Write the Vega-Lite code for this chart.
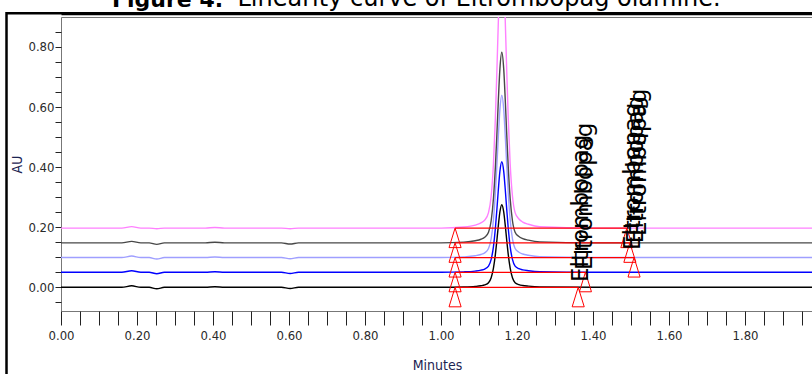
{
  "$schema": "https://vega.github.io/schema/vega-lite/v6.json",
  "autosize": "none",
  "width": 752,
  "height": 294,
  "padding": {"left": 61, "top": 17, "right": 0, "bottom": 63},
  "background": "white",
  "title": {
    "text": "Figure 4.",
    "anchor": "start",
    "frame": "group",
    "dx": 51,
    "dy": 26,
    "offset": 0,
    "font": "DejaVu Sans",
    "fontSize": 22,
    "fontWeight": "bold",
    "color": "#000000"
  },
  "resolve": {"axis": {"x": "independent", "y": "independent"}},
  "config": {
    "view": {"stroke": "#777777", "strokeWidth": 1},
    "axis": {
      "grid": false,
      "domain": false,
      "labelFont": "Liberation Sans Narrow, DejaVu Sans Condensed, Liberation Sans",
      "labelFontSize": 13,
      "labelColor": "#2a2a2a",
      "labelOverlap": false,
      "labelFlush": false,
      "tickColor": "#222222",
      "tickWidth": 1,
      "titleFont": "Liberation Sans Narrow, DejaVu Sans Condensed, Liberation Sans",
      "titleFontSize": 14,
      "titleFontWeight": "normal",
      "titleColor": "#1c2452"
    }
  },
  "datasets": {
    "chrom": [
      {"t": 0, "k": 0, "b": 0.05, "l": 0.099, "g": 0.148, "m": 0.197},
      {"t": 0.16, "k": 0, "b": 0.05, "l": 0.099, "g": 0.148, "m": 0.197},
      {"t": 0.186, "k": 0.005, "b": 0.055, "l": 0.104, "g": 0.153, "m": 0.202},
      {"t": 0.21, "k": 0, "b": 0.05, "l": 0.099, "g": 0.148, "m": 0.197},
      {"t": 0.232, "k": 0, "b": 0.05, "l": 0.099, "g": 0.148, "m": 0.197},
      {"t": 0.252, "k": -0.005, "b": 0.045, "l": 0.094, "g": 0.143, "m": 0.195},
      {"t": 0.272, "k": 0, "b": 0.05, "l": 0.099, "g": 0.148, "m": 0.197},
      {"t": 0.38, "k": 0, "b": 0.05, "l": 0.099, "g": 0.148, "m": 0.197},
      {"t": 0.405, "k": 0.002, "b": 0.052, "l": 0.101, "g": 0.15, "m": 0.199},
      {"t": 0.43, "k": 0, "b": 0.05, "l": 0.099, "g": 0.148, "m": 0.197},
      {"t": 0.58, "k": 0, "b": 0.05, "l": 0.099, "g": 0.148, "m": 0.197},
      {"t": 0.603, "k": -0.004, "b": 0.046, "l": 0.095, "g": 0.144, "m": 0.195},
      {"t": 0.625, "k": 0, "b": 0.05, "l": 0.099, "g": 0.148, "m": 0.197},
      {"t": 1.0, "k": 0, "b": 0.05, "l": 0.099, "g": 0.148, "m": 0.197},
      {"t": 1.06, "k": 0.0011, "b": 0.0515, "l": 0.1012, "g": 0.1505, "m": 0.2007},
      {"t": 1.09, "k": 0.003, "b": 0.054, "l": 0.1049, "g": 0.155, "m": 0.2071},
      {"t": 1.105, "k": 0.0052, "b": 0.057, "l": 0.1093, "g": 0.16, "m": 0.2145},
      {"t": 1.115, "k": 0.008, "b": 0.0607, "l": 0.1147, "g": 0.1664, "m": 0.2237},
      {"t": 1.125, "k": 0.0154, "b": 0.0706, "l": 0.1292, "g": 0.1835, "m": 0.2485},
      {"t": 1.132, "k": 0.0319, "b": 0.0927, "l": 0.1616, "g": 0.2215, "m": 0.3037},
      {"t": 1.138, "k": 0.0641, "b": 0.1357, "l": 0.2248, "g": 0.2957, "m": 0.4114},
      {"t": 1.143, "k": 0.1089, "b": 0.1957, "l": 0.3128, "g": 0.3991, "m": 0.5613},
      {"t": 1.147, "k": 0.1559, "b": 0.2587, "l": 0.4052, "g": 0.5075, "m": 0.7186},
      {"t": 1.151, "k": 0.2071, "b": 0.3271, "l": 0.5056, "g": 0.6254, "m": 0.8898},
      {"t": 1.155, "k": 0.2511, "b": 0.386, "l": 0.592, "g": 0.7268, "m": 1.037},
      {"t": 1.16, "k": 0.275, "b": 0.418, "l": 0.639, "g": 0.782, "m": 1.117},
      {"t": 1.165, "k": 0.2511, "b": 0.386, "l": 0.592, "g": 0.7268, "m": 1.037},
      {"t": 1.169, "k": 0.2071, "b": 0.3271, "l": 0.5056, "g": 0.6254, "m": 0.8898},
      {"t": 1.173, "k": 0.1559, "b": 0.2587, "l": 0.4052, "g": 0.5075, "m": 0.7186},
      {"t": 1.177, "k": 0.1089, "b": 0.1957, "l": 0.3128, "g": 0.3991, "m": 0.5613},
      {"t": 1.182, "k": 0.0641, "b": 0.1357, "l": 0.2248, "g": 0.2957, "m": 0.4114},
      {"t": 1.188, "k": 0.0319, "b": 0.0927, "l": 0.1616, "g": 0.2215, "m": 0.3037},
      {"t": 1.195, "k": 0.0154, "b": 0.0706, "l": 0.1292, "g": 0.1835, "m": 0.2485},
      {"t": 1.205, "k": 0.0091, "b": 0.0621, "l": 0.1168, "g": 0.1689, "m": 0.2274},
      {"t": 1.215, "k": 0.0061, "b": 0.0581, "l": 0.1109, "g": 0.1619, "m": 0.2172},
      {"t": 1.23, "k": 0.0039, "b": 0.0552, "l": 0.1066, "g": 0.1569, "m": 0.2099},
      {"t": 1.26, "k": 0.0014, "b": 0.0518, "l": 0.1017, "g": 0.1512, "m": 0.2016},
      {"t": 1.4, "k": 0, "b": 0.05, "l": 0.099, "g": 0.148, "m": 0.197},
      {"t": 1.98, "k": 0, "b": 0.05, "l": 0.099, "g": 0.148, "m": 0.197}
    ],
    "integration": [
      {"trace": "k", "start": 1.037, "end": 1.361, "base": 0},
      {"trace": "b", "start": 1.037, "end": 1.38, "base": 0.05},
      {"trace": "l", "start": 1.037, "end": 1.508, "base": 0.099},
      {"trace": "g", "start": 1.037, "end": 1.497, "base": 0.148},
      {"trace": "m", "start": 1.037, "end": 1.489, "base": 0.197}
    ],
    "marks": [
      {"t": 1.037, "base": 0},
      {"t": 1.037, "base": 0.05},
      {"t": 1.037, "base": 0.099},
      {"t": 1.037, "base": 0.148},
      {"t": 1.037, "base": 0.197},
      {"t": 1.361, "base": 0},
      {"t": 1.38, "base": 0.05},
      {"t": 1.508, "base": 0.099},
      {"t": 1.497, "base": 0.148},
      {"t": 1.489, "base": 0.197}
    ],
    "labels": [
      {"t": 1.368, "au": 0.018, "name": "Eltrombopag"},
      {"t": 1.379, "au": 0.058, "name": "Eltrombopag"},
      {"t": 1.505, "au": 0.124, "name": "Eltrombopag"},
      {"t": 1.513, "au": 0.147, "name": "Eltrombopag"},
      {"t": 1.521, "au": 0.171, "name": "Eltrombopag"}
    ]
  },
  "layer": [
    {
      "data": {"name": "chrom"},
      "transform": [{"fold": ["k", "b", "l", "g", "m"], "as": ["trace", "au"]}],
      "mark": {"type": "line", "clip": true, "strokeWidth": 1.4, "interpolate": "monotone"},
      "encoding": {
        "x": {
          "field": "t", "type": "quantitative",
          "scale": {"domain": [0, 1.9789], "nice": false, "zero": false},
          "axis": {
            "title": "Minutes",
            "values": [0, 0.05, 0.1, 0.15, 0.2, 0.25, 0.3, 0.35, 0.4, 0.45, 0.5, 0.55, 0.6, 0.65, 0.7, 0.75, 0.8, 0.85, 0.9, 0.95, 1.0, 1.05, 1.1, 1.15, 1.2, 1.25, 1.3, 1.35, 1.4, 1.45, 1.5, 1.55, 1.6, 1.65, 1.7, 1.75, 1.8, 1.85, 1.9, 1.95],
            "labelExpr": "abs(datum.value*5 - round(datum.value*5)) < 0.001 ? format(datum.value, '.2f') : ''",
            "tickSize": 14,
            "encode": {"ticks": {"update": {"y2": {"signal": "abs(datum.value*5 - round(datum.value*5)) < 0.001 ? 14 : 9"}}}},
            "labelPadding": 4,
            "titlePadding": 16
          }
        },
        "y": {
          "field": "au", "type": "quantitative",
          "scale": {"domain": [-0.0788, 0.8995], "nice": false, "zero": false},
          "axis": {
            "title": "AU",
            "values": [-0.05, 0, 0.05, 0.1, 0.15, 0.2, 0.25, 0.3, 0.35, 0.4, 0.45, 0.5, 0.55, 0.6, 0.65, 0.7, 0.75, 0.8, 0.85],
            "labelExpr": "abs(datum.value*5 - round(datum.value*5)) < 0.001 ? format(datum.value, '.2f') : ''",
            "tickSize": 6,
            "encode": {"ticks": {"update": {"x2": {"signal": "abs(datum.value*5 - round(datum.value*5)) < 0.001 ? -6 : -4"}}}},
            "labelPadding": 1,
            "titlePadding": 3
          }
        },
        "color": {
          "field": "trace", "type": "nominal",
          "scale": {"domain": ["k", "b", "l", "g", "m"], "range": ["#000000", "#0000ff", "#9f9fff", "#484848", "#ff80ff"]},
          "legend": null
        }
      }
    },
    {
      "data": {"name": "integration"},
      "mark": {"type": "rule", "color": "#ff0000", "strokeWidth": 1.2},
      "encoding": {
        "x": {"field": "start", "type": "quantitative", "scale": {"domain": [0, 1.9789], "nice": false, "zero": false}, "axis": null},
        "x2": {"field": "end"},
        "y": {"field": "base", "type": "quantitative", "scale": {"domain": [-0.0788, 0.8995], "nice": false, "zero": false}, "axis": null}
      }
    },
    {
      "data": {"name": "marks"},
      "mark": {"type": "point", "shape": "M0,0L0.62,2L-0.62,2Z", "filled": false, "stroke": "#ff0000", "strokeWidth": 1, "size": 380, "opacity": 1},
      "encoding": {
        "x": {
          "field": "t", "type": "quantitative",
          "scale": {"domain": [0, 1.9789], "nice": false, "zero": false},
          "axis": {
            "orient": "top",
            "title": "Linearity curve of Eltrombopag olamine.",
            "labels": false,
            "ticks": false,
            "domain": true,
            "domainColor": "#000000",
            "domainWidth": 2.5,
            "offset": 3.6,
            "zindex": 1,
            "titleAnchor": "start",
            "titleAlign": "left",
            "titleBaseline": "alphabetic",
            "titleX": 176,
            "titleY": -8.4,
            "titleFont": "DejaVu Sans",
            "titleFontSize": 24,
            "titleFontWeight": "normal",
            "titleColor": "#000000"
          }
        },
        "y": {"field": "base", "type": "quantitative", "scale": {"domain": [-0.0788, 0.8995], "nice": false, "zero": false}, "axis": null}
      }
    },
    {
      "data": {"name": "labels"},
      "mark": {"type": "text", "angle": 270, "align": "left", "baseline": "middle", "font": "DejaVu Sans", "fontSize": 23, "color": "#000000"},
      "encoding": {
        "x": {"field": "t", "type": "quantitative", "scale": {"domain": [0, 1.9789], "nice": false, "zero": false}, "axis": null},
        "y": {"field": "au", "type": "quantitative", "scale": {"domain": [-0.0788, 0.8995], "nice": false, "zero": false}, "axis": null},
        "text": {"field": "name"}
      }
    },
    {
      "data": {"values": [{}]},
      "mark": {"type": "rect", "filled": false, "fill": null, "stroke": "#000000", "strokeWidth": 2.5},
      "encoding": {
        "x": {"datum": -0.1434, "type": "quantitative", "scale": {"domain": [0, 1.9789], "nice": false, "zero": false}, "axis": null},
        "x2": {"datum": 2.5},
        "y": {"datum": 0.9116, "type": "quantitative", "scale": {"domain": [-0.0788, 0.8995], "nice": false, "zero": false}, "axis": null},
        "y2": {"datum": -0.6}
      }
    }
  ]
}
